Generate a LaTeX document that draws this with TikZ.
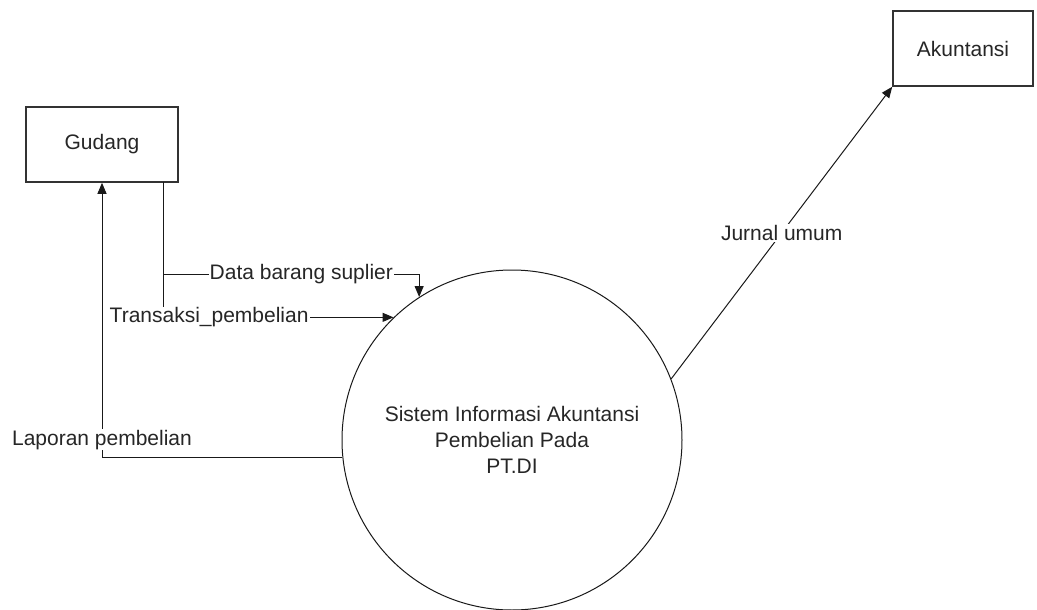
\documentclass[tikz,border=0pt]{standalone}
\usepackage{fontspec}
\setmainfont{Liberation Sans}
\usetikzlibrary{shapes,arrows.meta}

\begin{document}
\begin{tikzpicture}[
    x=1pt, y=-1pt,
    every node/.style={font=\fontsize{21}{26}\selectfont, text=black!85},
    entitas/.style={rectangle, draw=black!80, line width=1.6pt,
        minimum width=152pt, minimum height=75pt},
    proses/.style={circle, draw=black!90, line width=1pt,
        minimum size=340pt, align=center},
    aliran/.style={draw=black!90, line width=1pt,
        -{Triangle[length=11pt,width=9pt]}},
    ket/.style={fill=white, inner sep=1pt}
    ]
\useasboundingbox (0,0) rectangle (1037,610);

\node[entitas] (gudang) at (102,144.5) {Gudang};
\node[entitas, minimum width=140pt] (akuntansi) at (963,48.5) {Akuntansi};
\node[proses] (sistem) at (512,440)
    {Sistem Informasi Akuntansi\\Pembelian Pada\\PT.DI};

%aliran dari gudang
\coordinate (keluar) at (163,182);
\coordinate (cabang) at (163,274);
\draw[aliran] (keluar) |- (sistem.134)
    node[ket, pos=.6] {Transaksi\_pembelian};
\draw[aliran] (cabang) -| (sistem.123)
    node[ket, pos=.27] {Data barang suplier};

%aliran ke gudang
\draw[aliran] (sistem.186) -| (gudang.south)
    node[ket, pos=.533] {Laporan pembelian};

%aliran ke akuntansi
\draw[aliran] (sistem.21) -- (akuntansi.south west)
    node[ket, midway] {Jurnal umum};
\end{tikzpicture}
\end{document}
